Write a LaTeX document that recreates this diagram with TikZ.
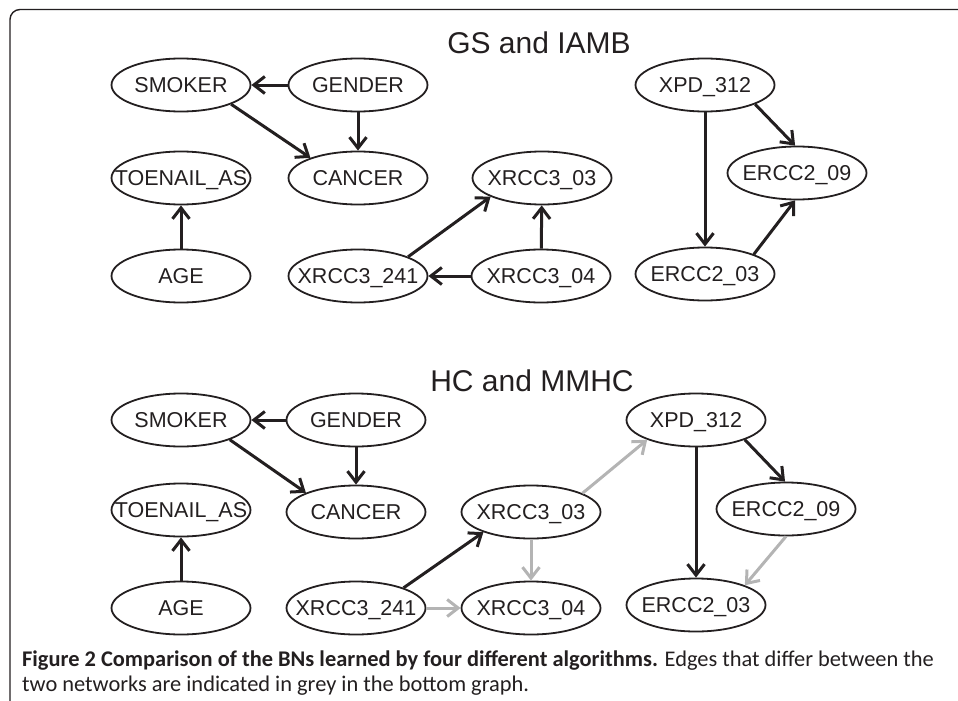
\documentclass[tikz,border=0pt]{standalone}
\usepackage{fontspec}
\setmainfont{Liberation Sans}
\newfontfamily\capfont{Carlito}
\usetikzlibrary{shapes.geometric,arrows.meta}
\definecolor{ink}{RGB}{35,31,32}
\definecolor{edgegrey}{RGB}{180,180,180}
\newcommand{\lbl}[1]{\makebox[0pt][c]{\raisebox{-7.5pt}[0pt][0pt]{#1}}}
\tikzset{
  bn/.style={ellipse,draw=ink,line width=1.8pt,minimum width=139pt,minimum height=53pt,
    inner sep=0pt,text height=0pt,text depth=0pt,text=ink,font=\fontsize{21.5}{21.5}\selectfont},
  bnedge/.style={draw=ink,line width=3pt,-{Straight Barb[length=11pt,width=17pt]}},
  gedge/.style={bnedge,draw=edgegrey},
  ttl/.style={text=ink,font=\fontsize{30}{30}\selectfont,anchor=base,inner sep=0pt},
  captxt/.style={text=ink,font=\capfont\fontsize{22.4}{22.4}\selectfont,anchor=base west,inner sep=0pt}
}
\begin{document}
\begin{tikzpicture}[x=1pt,y=-1pt]
\useasboundingbox (0,0) rectangle (958,701);
\draw[ink,line width=1.4pt,rounded corners=10pt] (958,9.5) -- (10,9.5) -- (10,701);
% top graph
\node[ttl] (t1) at (539,53) {GS and IAMB};
\node[bn] (smoker1) at (181,85) {\lbl{SMOKER}};
\node[bn] (gender1) at (358,85) {\lbl{GENDER}};
\node[bn] (toenail1) at (181,178) {\lbl{TOENAIL\_AS}};
\node[bn] (cancer1) at (358,178) {\lbl{CANCER}};
\node[bn] (age1) at (181,276) {\lbl{AGE}};
\node[bn] (x241a) at (358,276) {\lbl{XRCC3\_241}};
\node[bn] (x03a) at (542,178) {\lbl{XRCC3\_03}};
\node[bn] (x04a) at (541,276) {\lbl{XRCC3\_04}};
\node[bn] (xpda) at (705,85) {\lbl{XPD\_312}};
\node[bn] (e09a) at (797,173) {\lbl{ERCC2\_09}};
\node[bn] (e03a) at (705,274) {\lbl{ERCC2\_03}};
\draw[bnedge] (gender1) -- (smoker1);
\draw[bnedge] (smoker1.-21) -- (cancer1.157);
\draw[bnedge] (gender1) -- (cancer1);
\draw[bnedge] (age1) -- (toenail1);
\draw[bnedge] (x241a.21) -- (x03a.-160);
\draw[bnedge] (x04a) -- (x241a);
\draw[bnedge] (x04a) -- (x03a);
\draw[bnedge] (xpda.-21) -- (e09a.94);
\draw[bnedge] (xpda) -- (e03a);
\draw[bnedge] (e03a.22) -- (e09a.-94);
% bottom graph
\node[ttl] (t2) at (532,391) {HC and MMHC};
\node[bn] (smoker2) at (181,420) {\lbl{SMOKER}};
\node[bn] (gender2) at (356,420) {\lbl{GENDER}};
\node[bn] (toenail2) at (181,510) {\lbl{TOENAIL\_AS}};
\node[bn] (cancer2) at (356,512) {\lbl{CANCER}};
\node[bn] (age2) at (181,608) {\lbl{AGE}};
\node[bn] (x241b) at (356,608) {\lbl{XRCC3\_241}};
\node[bn] (x03b) at (531,512) {\lbl{XRCC3\_03}};
\node[bn] (x04b) at (531,608) {\lbl{XRCC3\_04}};
\node[bn] (xpdb) at (696,420) {\lbl{XPD\_312}};
\node[bn] (e09b) at (786,509) {\lbl{ERCC2\_09}};
\node[bn] (e03b) at (696,605) {\lbl{ERCC2\_03}};
\draw[bnedge] (gender2) -- (smoker2);
\draw[bnedge] (smoker2.-22) -- (cancer2.159);
\draw[bnedge] (gender2) -- (cancer2);
\draw[bnedge] (age2) -- (toenail2);
\draw[bnedge] (x241b.23) -- (x03b.-157);
\draw[gedge] (x241b) -- (x04b);
\draw[gedge] (x03b) -- (x04b);
\draw[gedge] (x03b.20) -- (xpdb.-158);
\draw[bnedge] (xpdb.-22) -- (e09b.92);
\draw[bnedge] (xpdb) -- (e03b);
\draw[gedge] (e09b.-90) -- (e03b.22);
% caption
\node[captxt] (c1) at (22,666) {\textbf{Figure 2 Comparison of the BNs learned by four different algorithms.} Edges that differ between the};
\node[captxt] (c2) at (22,691) {two networks are indicated in grey in the bottom graph.};
\end{tikzpicture}
\end{document}
